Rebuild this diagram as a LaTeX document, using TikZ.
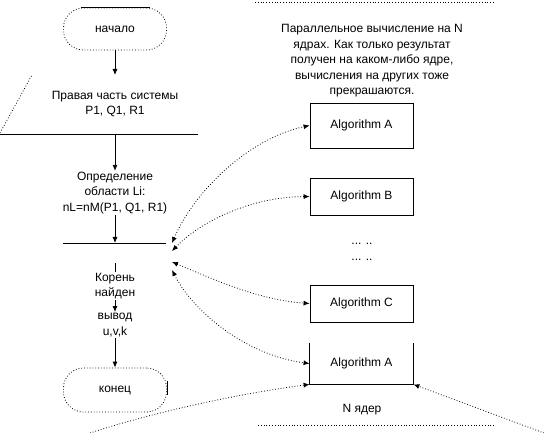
\documentclass[tikz,border=0pt]{standalone}
\usepackage{fontspec}
\setmainfont{Liberation Sans}
\usepackage{tikz}
\usetikzlibrary{arrows.meta,calc,positioning}
\definecolor{ink}{HTML}{000000}
\definecolor{paper}{HTML}{FFFFFF}
\tikzset{
  flowarr/.style={-{Latex[length=6pt,width=5pt]},line width=0.8pt,color=ink},
  dotarr/.style={{Latex[length=6pt,width=5pt]}-{Latex[length=6pt,width=5pt]},line width=0.8pt,dotted,color=ink},
  onearr/.style={-{Latex[length=6pt,width=5pt]},line width=0.8pt,dotted,color=ink},
  flowtext/.style={align=center,inner sep=1pt,font=\fontsize{12}{15.5}\selectfont,text=ink},
  algbox/.style={draw=ink,fill=paper,line width=0.8pt,minimum width=103pt,inner sep=0pt,font=\fontsize{12}{15.5}\selectfont},
  termshape/.style={draw=ink,dotted,line width=0.8pt,minimum width=103pt,rounded corners=20pt,font=\fontsize{12}{15.5}\selectfont}
}

\begin{document}
\begin{tikzpicture}[x=1pt,y=-1pt,>=Latex]
  \useasboundingbox[fill=paper] (0,0) rectangle (544,433);

  % flowchart on the left
  \node[termshape,minimum height=42pt] (start) at (115,29) {начало};
  \draw[ink,line width=0.8pt] ([xshift=18pt]start.north west) -- ([xshift=-17pt]start.north east);
  \node[flowtext] (rhs) at (115,104) {Правая часть системы\\P1, Q1, R1};
  \draw[ink,dotted,line width=0.8pt] (0,133) -- (32,75);
  \draw[ink,line width=0.8pt] (0,134) -- (198,134);
  \coordinate (rhstop) at (115,75);
  \coordinate (rhsbot) at (115,134);
  \draw[flowarr] (start) -- (rhstop);
  \node[flowtext] (area) at (115,193) {Определение\\области Li:\\nL=nM(P1, Q1, R1)};
  \draw[flowarr] (rhsbot) -- (area);
  \draw[ink,line width=0.8pt] (63,243) -- (166,243);
  \coordinate (bar) at (115,243);
  \draw[flowarr] (area) -- (bar);
  \node[flowtext] (found) at (115,286) {Корень\\найден};
  \draw[ink,line width=0.8pt] (115,263) -- (found);
  \node[flowtext] (output) at (115,325) {вывод\\u,v,k};
  \draw[flowarr] (found) -- (output);
  \node[termshape,minimum height=44pt] (finish) at (115,390) {конец};
  \draw[ink,line width=0.8pt] ([yshift=9pt]finish.east) -- ([yshift=-5pt]finish.east);
  \draw[flowarr] (output) -- (finish);

  % parallel part on the right
  \draw[ink,dotted,line width=0.8pt] (255,2) -- (495,2);
  \node[flowtext] (note) at (372,61) {Параллельное вычисление на N\\ядрах. Как только результат\\получен на каком-либо ядре,\\вычисления на других тоже\\прекрашаются.};
  \node[algbox,minimum height=45pt] (algA) at (361.5,125.5) {Algorithm A};
  \node[algbox,minimum height=37pt] (algB) at (361.5,196.5) {Algorithm B};
  \node[flowtext] (dots) at (362,252) {... ..\\... ..};
  \node[algbox,minimum height=37pt] (algC) at (361.5,303.5) {Algorithm C};
  \node[algbox,draw=none,minimum height=41pt] (algAA) at (361.5,363.5) {Algorithm A};
  \draw[ink,line width=0.8pt] (algAA.north west) -- (algAA.south west) -- (algAA.south east) -- (algAA.north east);
  \node[flowtext] (cores) at (362,410) {N ядер};
  \draw[ink,dotted,line width=0.8pt] (258,425) -- (495,425);

  % links between the flowchart and the cores
  \coordinate (j1) at (172,243);
  \coordinate (j2) at (172,251);
  \coordinate (j3) at (172,262);
  \coordinate (j4) at (172,270);
  \draw[dotarr] (j1) .. controls (195,190) and (250,138) .. (algA.west);
  \draw[dotarr] (j2) .. controls (200,222) and (250,197) .. (algB.west);
  \draw[dotarr] (j3) .. controls (220,282) and (260,300) .. (algC.west);
  \draw[dotarr] (j4) .. controls (195,315) and (250,356) .. (algAA.west);
  \coordinate (low1) at (90,433);
  \coordinate (low2) at (544,433);
  \draw[onearr] (low1) .. controls (160,410) and (250,392) .. (algAA.south west);
  \draw[onearr] (low2) -- (algAA.south east);
\end{tikzpicture}
\end{document}
